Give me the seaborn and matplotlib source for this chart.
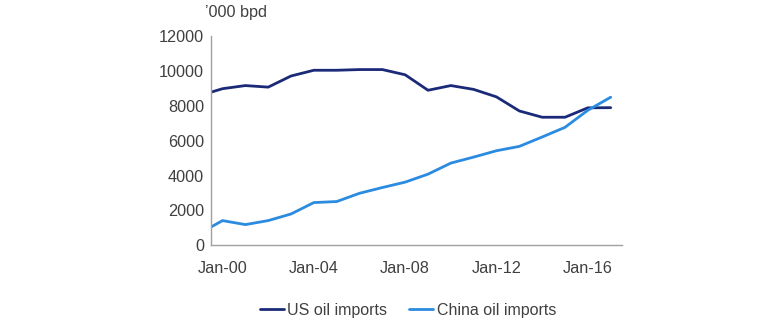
import matplotlib
matplotlib.use("Agg")
import matplotlib.pyplot as plt
import matplotlib.dates as mdates
import seaborn as sns
import pandas as pd

dates = ["1999-07-01"] + [f"{y}-01-01" for y in range(2000, 2018)]
us_imports = [8800, 9000, 9180, 9090, 9730, 10060, 10060, 10100, 10100, 9800,
              8910, 9180, 8960, 8530, 7720, 7360, 7360, 7900, 7910]
china_imports = [1050, 1420, 1190, 1420, 1800, 2455, 2515, 2990, 3320, 3630,
                 4090, 4725, 5070, 5435, 5685, 6225, 6780, 7760, 8510]
series_names = ["US oil imports", "China oil imports"]
tick_years = [2000, 2004, 2008, 2012, 2016]
y_ticks = [0, 2000, 4000, 6000, 8000, 10000, 12000]

df = pd.DataFrame({
    "date": pd.to_datetime(dates * 2),
    "value": us_imports + china_imports,
    "series": [series_names[0]] * len(dates) + [series_names[1]] * len(dates),
})

sns.set_theme(style="white")
plt.rcParams["font.family"] = ["Liberation Sans", "DejaVu Sans"]
text_color = "#404040"

fig = plt.figure(figsize=(7.8, 3.26), dpi=100)
ax = fig.add_axes([211 / 780, 1 - 245.3 / 326, (622 - 211) / 780, (245.3 - 36.5) / 326])

palette = {series_names[0]: "#1B2A78", series_names[1]: "#2A8BE0"}
sns.lineplot(data=df, x="date", y="value", hue="series", palette=palette,
             linewidth=2, ax=ax, legend=False)

ax.set_xlim(pd.Timestamp("1999-07-01"), pd.Timestamp("2017-07-01"))
ax.set_ylim(0, 12000)
ax.set_yticks(y_ticks)
ax.set_yticklabels([str(v) for v in y_ticks])
ax.set_xticks([pd.Timestamp(f"{y}-01-01") for y in tick_years])
ax.xaxis.set_major_formatter(mdates.DateFormatter("Jan-%y"))
ax.set_xlabel("")
ax.set_ylabel("")
ax.tick_params(axis="both", labelsize=11.7, colors=text_color, length=0)
ax.tick_params(axis="y", pad=5)
ax.tick_params(axis="x", pad=11)

for s in ["top", "right"]:
    ax.spines[s].set_visible(False)
for s in ["left", "bottom"]:
    ax.spines[s].set_color("#A0A0A0")
    ax.spines[s].set_linewidth(1)

fig.text(205 / 780, 1 - 13 / 326, "\u2019000 bpd", fontsize=11.7, color=text_color,
         va="center", ha="left")

from matplotlib.lines import Line2D
handles = [Line2D([], [], color=palette[n], linewidth=2) for n in series_names]
fig.legend(handles, series_names, loc="center", bbox_to_anchor=(408 / 780, 1 - 310 / 326),
           ncol=2, frameon=False, fontsize=11.5, handlelength=1.5, handletextpad=0.2,
           columnspacing=1.4, labelcolor=text_color)

fig.savefig("out.png", dpi=100)
